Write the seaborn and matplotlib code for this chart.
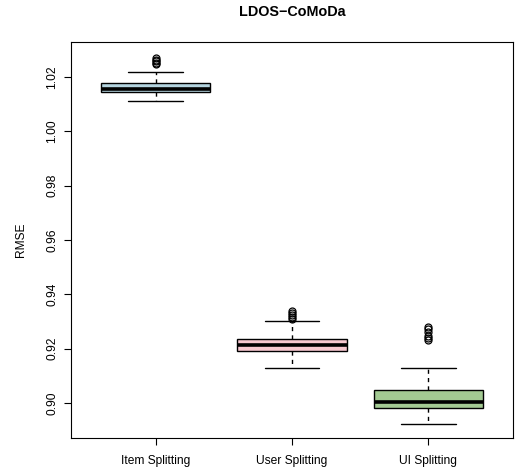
import numpy as np
import pandas as pd
import matplotlib
matplotlib.use("Agg")
import matplotlib.pyplot as plt
import seaborn as sns

# Splitting strategies and their RMSE summaries
methods = ["Item Splitting", "User Splitting", "UI Splitting"]
whisker_low = [1.0112, 0.9130, 0.8924]
q1 = [1.0144, 0.9193, 0.8982]
median = [1.0158, 0.9215, 0.9002]
q3 = [1.0180, 0.9237, 0.9046]
whisker_high = [1.0219, 0.9301, 0.9127]
outliers = [
    [1.0247, 1.0253, 1.0259, 1.0264, 1.0269],
    [0.9310, 0.9318, 0.9325, 0.9332, 0.9340],
    [0.9232, 0.9240, 0.9248, 0.9262, 0.9272, 0.9278],
]
colors = ["#ADD8E6", "#FFC0CB", "#9FD38A"]
yticks = [0.90, 0.92, 0.94, 0.96, 0.98, 1.00, 1.02]

# Expand each summary into observations whose quartiles reproduce it
rows = []
for i, m in enumerate(methods):
    vals = ([whisker_low[i]] + [q1[i]] * 20 + [median[i]] * 20 + [q3[i]] * 20
            + [whisker_high[i]] + outliers[i])
    rows += [(m, v) for v in vals]
df = pd.DataFrame(rows, columns=["method", "RMSE"])

sns.set_style("white")
plt.rcParams["font.family"] = ["Liberation Sans", "DejaVu Sans"]
plt.rcParams["text.color"] = "black"
plt.rcParams["axes.labelcolor"] = "black"
plt.rcParams["xtick.color"] = "black"
plt.rcParams["ytick.color"] = "black"

fig = plt.figure(figsize=(5.23, 4.74), dpi=100)
ax = fig.add_axes([0.1358, 0.076, 0.845, 0.835])

sns.boxplot(
    data=df, x="method", y="RMSE", hue="method", palette=colors,
    order=methods, hue_order=methods, legend=False,
    width=0.8, whis=1.5, linecolor="black", linewidth=1.0, ax=ax,
    medianprops=dict(color="black", linewidth=2.6),
    whiskerprops=dict(color="black", linestyle=(0, (3, 3)), linewidth=1.0),
    capprops=dict(color="black", linewidth=1.0),
    flierprops=dict(marker="o", markerfacecolor="none", markeredgecolor="black",
                    markersize=5, markeredgewidth=0.9),
)

# R-style caps: half the box width
for line in ax.lines:
    xd = np.asarray(line.get_xdata(), dtype=float)
    yd = np.asarray(line.get_ydata(), dtype=float)
    if len(xd) == 2 and yd[0] == yd[1] and line.get_linestyle() == "-" and line.get_linewidth() < 2:
        c = xd.mean()
        line.set_xdata([c - 0.2, c + 0.2])

ax.set_xlim(-0.62, 2.62)
ax.set_ylim(0.8871, 1.0329)
ax.set_yticks(yticks)
ax.set_yticklabels([f"{t:.2f}" for t in yticks], rotation=90, va="center")
ax.set_xlabel("")
ax.set_ylabel("RMSE", fontsize=8.64, labelpad=14)
ax.tick_params(axis="both", direction="out", length=5.2, width=0.8,
               labelsize=8.64, color="black", labelcolor="black",
               left=True, bottom=True)
ax.tick_params(axis="y", pad=4)
ax.tick_params(axis="x", pad=7)
for s in ax.spines.values():
    s.set_visible(True)
    s.set_color("black")
    s.set_linewidth(0.8)

fig.text(0.5 * (0.1358 + 0.981), 1 - 12 / 474, "LDOS\u2212CoMoDa",
         ha="center", va="center", fontsize=10.4, fontweight="bold",
         color="black")

fig.savefig("out.png", dpi=100, facecolor="white")
